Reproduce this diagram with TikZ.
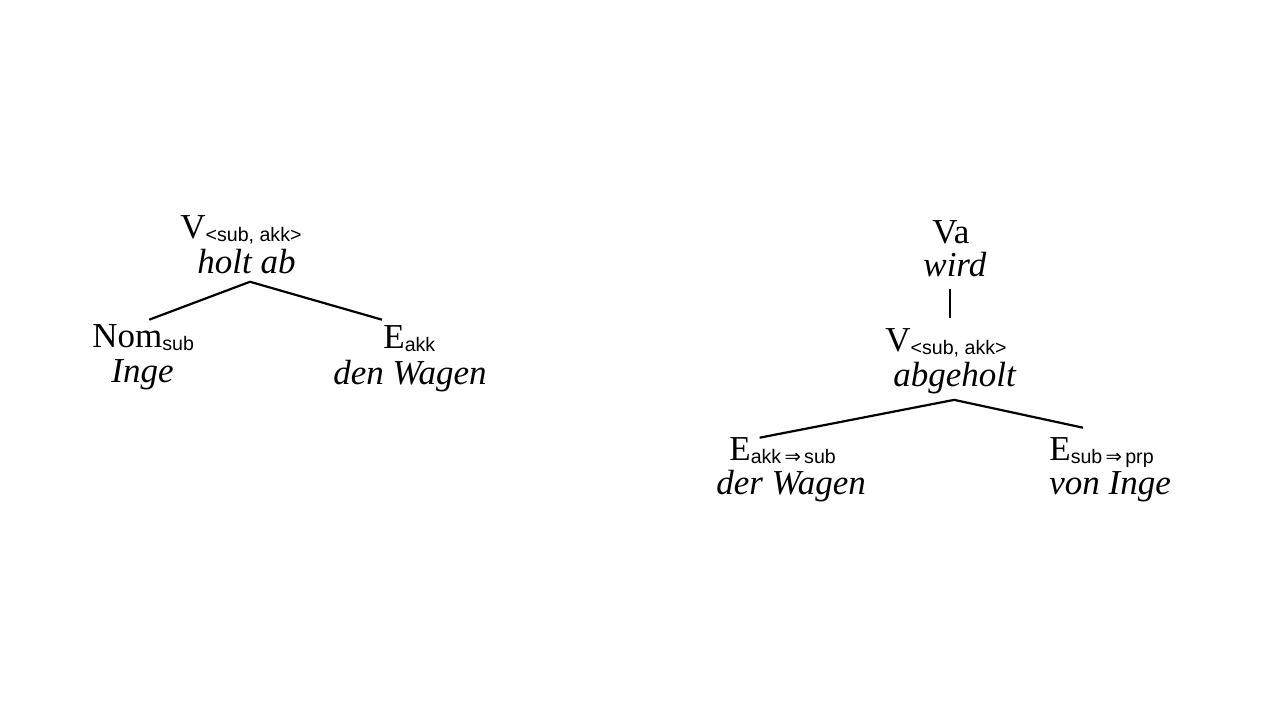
\documentclass[tikz,border=0pt]{standalone}
\usepackage{fontspec}
\setmainfont{Liberation Serif}
\setsansfont{Liberation Sans}
\newfontfamily\arrowfont{DejaVu Sans}
\newcommand{\subtag}[1]{\raisebox{-1.6pt}{\sffamily\fontsize{9.8}{12}\selectfont #1}}
\newcommand{\subarrow}{\,{\arrowfont ⇒}\,}
\begin{document}
\begin{tikzpicture}[x=0.5pt,y=-0.5pt,
  lab/.style={anchor=base west,inner sep=0pt,font=\fontsize{17.5}{20}\selectfont},
  word/.style={lab,font=\fontsize{17.5}{20}\selectfont\itshape},
  edge/.style={line width=1.1pt},
  vedge/.style={line width=0.7pt}]
\useasboundingbox (0,0) rectangle (1280,720);
% left tree
\node[lab] (v1) at (180,238) {V\subtag{<sub, akk>}};
\node[word] (v1w) at (197,273) {holt ab};
\node[lab] (nom) at (92,347) {Nom\subtag{sub}};
\node[word] (nomw) at (111,382) {Inge};
\node[lab] (eakk) at (383,348) {E\subtag{akk}};
\node[word] (eakkw) at (333,384) {den Wagen};
\draw[edge] ([shift={(-1,-5)}]eakk.north west) -- ([shift={(3.5,8)}]v1w.south) -- ([shift={(6,-4)}]nom.north);
% right tree
\node[lab] (va) at (932,243) {Va};
\node[word] (vaw) at (923,276) {wird};
\node[lab] (v2) at (885,351) {V\subtag{<sub, akk>}};
\node[word] (v2w) at (893,386) {abgeholt};
\node[lab] (e1) at (729,460) {E\subtag{akk\subarrow sub}};
\node[word] (e1w) at (716,494) {der Wagen};
\node[lab] (e2) at (1049,460) {E\subtag{sub\subarrow prp}};
\node[word] (e2w) at (1049,494) {von Inge};
\coordinate (vtop) at ([shift={(-5,12)}]vaw.south);
\draw[vedge,shorten >=5pt] (vtop) -- (vtop |- v2.north);
\draw[edge] ([shift={(-23,1)}]e1.north) -- ([shift={(-0.5,6)}]v2w.south) -- ([shift={(34,-9)}]e2.north west);
\end{tikzpicture}
\end{document}
